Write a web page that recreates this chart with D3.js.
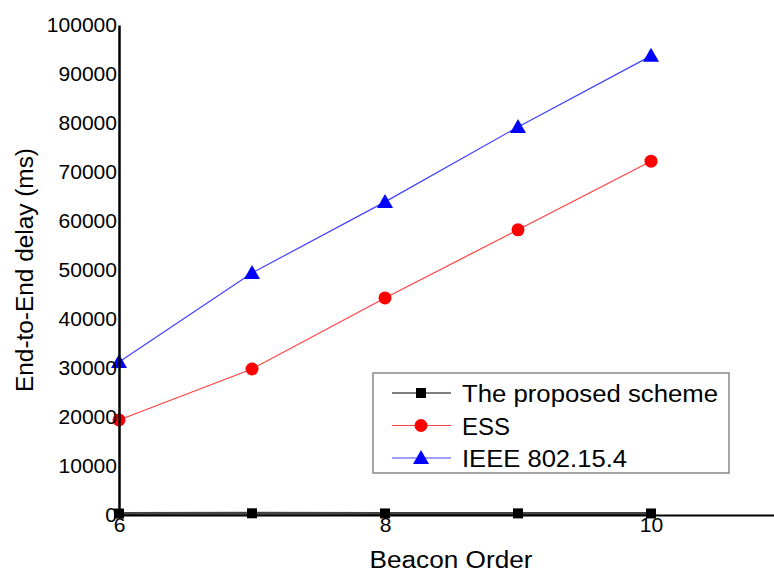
<!DOCTYPE html>
<html>
<head>
<meta charset="utf-8">
<script src="https://cdn.jsdelivr.net/npm/d3@7"></script>
<style>
  body { margin: 0; background: #fff; }
  svg { display: block; font-family: "Liberation Sans", Arial, sans-serif; }
</style>
</head>
<body>
<div id="chart"></div>
<script>
// data
var beaconOrder = [6, 7, 8, 9, 10];
var proposed = [300, 350, 320, 330, 310];
var ess = [19400, 29800, 44300, 58200, 72200];
var ieee = [31200, 49400, 63900, 79200, 93700];
var yTicks = [0, 10000, 20000, 30000, 40000, 50000, 60000, 70000, 80000, 90000, 100000];
var xTicks = [6, 8, 10];

var series = [
  {name: "The proposed scheme", values: proposed, color: "#000", line: "#444", lw: 3, shape: "square", len: 256},
  {name: "ESS", values: ess, color: "#ff0000", line: "#ff4040", lw: 1.2, shape: "circle", len: 48},
  {name: "IEEE 802.15.4", values: ieee, color: "#0000ff", line: "#4040ff", lw: 1.2, shape: "triangle", len: 165}
];

var width = 774, height = 574;
var svg = d3.select("#chart").append("svg")
    .attr("width", width)
    .attr("height", height);

var x = d3.scaleLinear().domain([6, 11]).range([119, 784]);
var y = d3.scaleLinear().domain([0, 100000]).range([515, 25]);

function marker(sel, shape, color) {
  if (shape === "square") {
    sel.append("rect").attr("x", -5).attr("y", -5).attr("width", 10).attr("height", 10).attr("fill", color);
  } else if (shape === "circle") {
    sel.append("circle").attr("r", 6.5).attr("fill", color);
  } else {
    sel.append("path").attr("d", "M0,-8L8,6L-8,6Z").attr("fill", color);
  }
}

// lines and markers
var line = d3.line()
    .x(function(d, i){ return x(beaconOrder[i]); })
    .y(function(d){ return y(d); });

series.forEach(function(s){
  svg.append("path")
      .datum(s.values)
      .attr("fill", "none")
      .attr("stroke", s.line)
      .attr("stroke-width", s.lw)
      .attr("d", line);
  s.values.forEach(function(v, i){
    var g = svg.append("g")
        .attr("transform", "translate(" + x(beaconOrder[i]) + "," + y(v) + ")");
    marker(g, s.shape, s.color);
  });
});

// axes
var yAxis = svg.append("g")
    .attr("transform", "translate(" + x(6) + ",0)")
    .call(d3.axisLeft(y).tickValues(yTicks).tickFormat(d3.format("d")).tickSize(0).tickPadding(2));
yAxis.select(".domain").attr("stroke", "#000").attr("stroke-width", 2.5);
yAxis.selectAll("text").attr("font-size", 20).attr("fill", "#000")
    .attr("font-family", "Liberation Sans, Arial, sans-serif")
    .attr("textLength", function(d){ return String(d).length * 11.7; })
    .attr("lengthAdjust", "spacingAndGlyphs");

var xAxis = svg.append("g")
    .attr("transform", "translate(0," + y(0) + ")")
    .call(d3.axisBottom(x).tickValues(xTicks).tickFormat(d3.format("d")).tickSize(0).tickPadding(3));
xAxis.select(".domain").attr("stroke", "#000").attr("stroke-width", 2);
xAxis.selectAll("text").attr("font-size", 20).attr("fill", "#000")
    .attr("font-family", "Liberation Sans, Arial, sans-serif")
    .attr("textLength", function(d){ return String(d).length * 11.7; })
    .attr("lengthAdjust", "spacingAndGlyphs");

// axis titles
svg.append("text")
    .attr("x", 451).attr("y", 568)
    .attr("text-anchor", "middle")
    .attr("font-size", 23)
    .attr("textLength", 163)
    .attr("lengthAdjust", "spacingAndGlyphs")
    .text("Beacon Order");

svg.append("text")
    .attr("transform", "translate(33,270) rotate(-90)")
    .attr("text-anchor", "middle")
    .attr("font-size", 23)
    .attr("textLength", 244)
    .attr("lengthAdjust", "spacingAndGlyphs")
    .text("End-to-End delay (ms)");

// legend
var legend = svg.append("g").attr("transform", "translate(373,373)");
legend.append("rect")
    .attr("width", 356).attr("height", 100)
    .attr("fill", "#fff").attr("stroke", "#888").attr("stroke-width", 1.5);
series.forEach(function(s, i){
  var row = legend.append("g").attr("transform", "translate(0," + (20 + i * 32.5) + ")");
  row.append("line").attr("x1", 19).attr("x2", 78).attr("stroke", s.line === "#444" ? "#000" : s.line).attr("stroke-width", 1.2);
  var m = row.append("g").attr("transform", "translate(48,0)");
  marker(m, s.shape, s.color);
  row.append("text").attr("x", 89).attr("y", 9).attr("font-size", 23)
      .attr("textLength", s.len).attr("lengthAdjust", "spacingAndGlyphs")
      .text(s.name);
});
</script>
</body>
</html>
